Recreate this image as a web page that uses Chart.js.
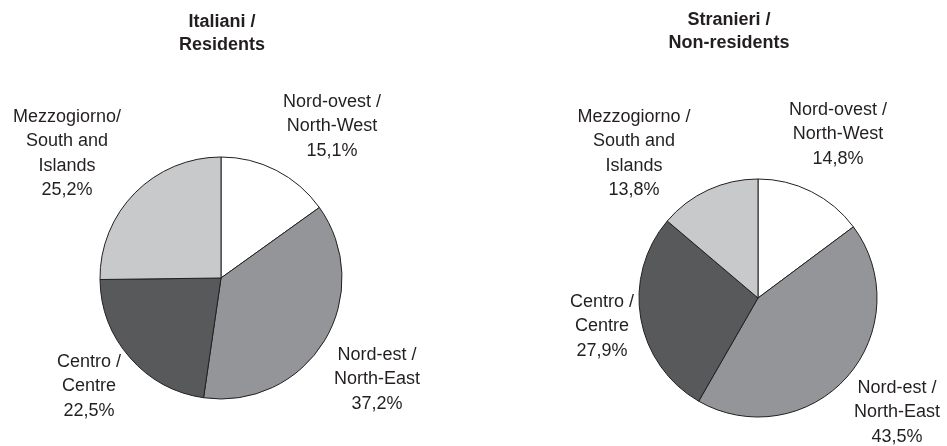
<!DOCTYPE html>
<html>
<head>
<meta charset="utf-8">
<script src="https://cdn.jsdelivr.net/npm/chart.js@4/dist/chart.umd.min.js"></script>
<style>
  html, body { margin: 0; padding: 0; background: #ffffff; overflow: hidden; }
  #wrap { position: relative; width: 947px; height: 446px; }
  canvas { position: absolute; top: 0; }
  #left { left: 0; }
  #right { left: 470px; }
</style>
</head>
<body>
<div id="wrap">
  <canvas id="left" width="470" height="446"></canvas>
  <canvas id="right" width="477" height="446"></canvas>
</div>
<script>
// Areas, clockwise from the top
const areas = [
  ['Nord-ovest /', 'North-West'],
  ['Nord-est /', 'North-East'],
  ['Centro /', 'Centre'],
  ['Mezzogiorno/', 'South and', 'Islands']
];
const areasForeign = [
  ['Nord-ovest /', 'North-West'],
  ['Nord-est /', 'North-East'],
  ['Centro /', 'Centre'],
  ['Mezzogiorno /', 'South and', 'Islands']
];
// Shares (%)
const residents = [15.1, 37.2, 22.5, 25.2];
const nonResidents = [14.8, 43.5, 27.9, 13.8];

const sliceColors = ['#ffffff', '#949599', '#58595b', '#c8c9cb'];
const ink = '#231f20';
const font = '"Liberation Sans", Arial, sans-serif';

const fmt = v => v.toFixed(1).replace('.', ',') + '%';

// Draws the heading and the outside labels of one pie
const pieText = {
  id: 'pieText',
  afterDraw(chart, args, opts) {
    const ctx = chart.ctx;
    const arc = chart.getDatasetMeta(0).data[0];
    const cx = arc.x, cy = arc.y;
    const values = chart.data.datasets[0].data;
    ctx.save();
    ctx.fillStyle = ink;
    ctx.textAlign = 'center';
    ctx.textBaseline = 'middle';
    ctx.font = 'bold 18px ' + font;
    opts.title.forEach((t, i) => ctx.fillText(t, opts.titleX, opts.titleY + i * 23.5));
    ctx.font = '18px ' + font;
    opts.names.forEach((lines, i) => {
      const [dx, dy] = opts.offsets[i];
      const all = lines.concat([fmt(values[i])]);
      all.forEach((t, j) => ctx.fillText(t, cx + dx, cy + dy + j * 24.3));
    });
    ctx.restore();
  }
};

function makePie(id, names, values, radius, padding, title, titleX, titleY, offsets) {
  return new Chart(document.getElementById(id), {
    type: 'pie',
    data: {
      labels: names.map(n => n.join(' ')),
      datasets: [{
        data: values,
        backgroundColor: sliceColors,
        borderColor: ink,
        borderWidth: 1,
        hoverOffset: 0
      }]
    },
    options: {
      responsive: false,
      animation: false,
      radius: radius,
      layout: { padding: padding },
      events: [],
      plugins: {
        legend: { display: false },
        tooltip: { enabled: false },
        title: { display: false },
        pieText: { title, titleX, titleY, names, offsets }
      }
    },
    plugins: [pieText]
  });
}

makePie('left', areas, residents, 121,
  { left: 0, right: 28, top: 110, bottom: 0 },
  ['Italiani /', 'Residents'], 222, 22,
  [[111, -176], [156, 77], [-132, 84], [-154, -161]]);

makePie('right', areasForeign, nonResidents, 119,
  { left: 99, right: 0, top: 150, bottom: 0 },
  ['Stranieri /', 'Non-residents'], 259, 20,
  [[80, -188], [139, 90], [-156, 4], [-124, -181]]);
</script>
</body>
</html>
